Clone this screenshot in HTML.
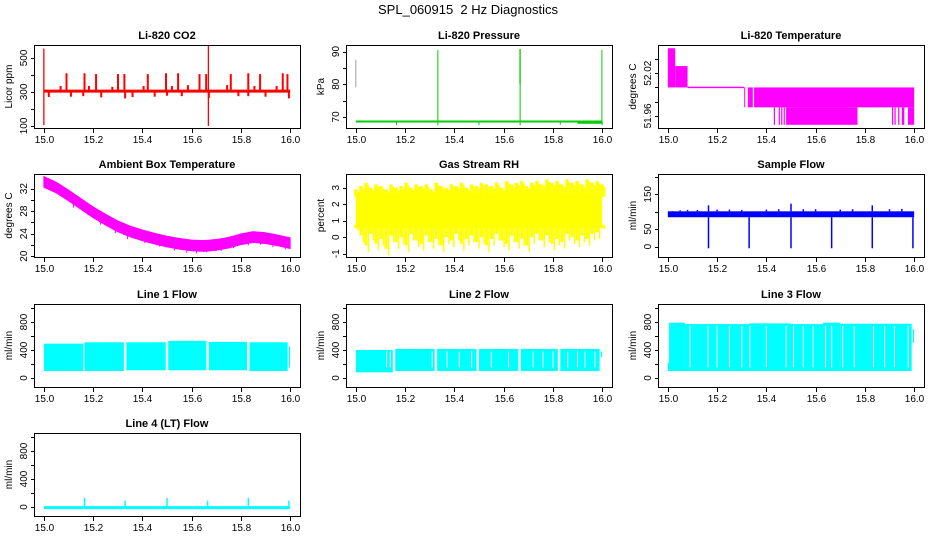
<!DOCTYPE html>
<html><head><meta charset="utf-8"><style>
html,body{margin:0;padding:0;background:#fff;}
svg{display:block;font-family:"Liberation Sans",Arial,sans-serif;}
</style></head><body>
<svg id="chart" width="936" height="540" viewBox="0 0 936 540" xmlns="http://www.w3.org/2000/svg">
<text x="468" y="14" text-anchor="middle" font-size="13" xml:space="preserve">SPL_060915&#160; 2 Hz Diagnostics</text>
</svg>
<script>
// ---------- data ----------
const xTicks = [15.0, 15.2, 15.4, 15.6, 15.8, 16.0];
const xTickLabels = ["15.0", "15.2", "15.4", "15.6", "15.8", "16.0"];

const co2Base = 305;
const co2SpikeX = [15.092, 15.165, 15.212, 15.301, 15.327, 15.422, 15.496, 15.545, 15.632, 15.659, 15.759, 15.830, 15.878, 15.970, 15.989, 15.068, 15.183, 15.278, 15.405, 15.52, 15.585, 15.744, 15.855, 15.945, 15.02, 15.11, 15.16, 15.233, 15.33, 15.36, 15.45, 15.5, 15.56, 15.67, 15.79, 15.83, 15.9, 15.995];
const co2SpikeV = [410, 410, 405, 405, 405, 405, 410, 410, 405, 405, 405, 410, 405, 410, 405, 335, 335, 330, 335, 335, 340, 340, 335, 335, 270, 272, 275, 268, 262, 270, 272, 278, 275, 265, 275, 275, 272, 262];
const co2BigX = [15.0, 15.668];
const co2BigLo = [105, 100];
const co2BigHi = [555, 570];

const presBase = 68.6;
const presSpikeX = [15.333, 15.667, 15.999];
const presSpikeHi = [90.5, 90.8, 90.5];
const presDipX = [15.165, 15.5, 15.83, 15.333, 15.667, 16.0];
const presDipV = [67.5, 67.5, 67.6, 67.4, 67.4, 67.4];

const tempSegX0 = [15.0, 15.03, 15.08, 15.31, 15.325, 15.35, 15.43, 15.45, 15.46, 15.47, 15.48, 15.91, 15.92, 15.935, 15.95, 15.975];
const tempSegX1 = [15.03, 15.08, 15.31, 15.313, 15.345, 16.0, 15.435, 15.455, 15.465, 15.475, 15.77, 15.915, 15.925, 15.94, 15.96, 16.0];
const tempSegLo = [52.0, 52.0, 51.999, 51.972, 51.972, 51.972, 51.9475, 51.9475, 51.9475, 51.9475, 51.9475, 51.9475, 51.9475, 51.9475, 51.9475, 51.9475];
const tempSegHi = [52.055, 52.03, 52.001, 52.0, 52.0, 52.0, 51.972, 51.972, 51.972, 51.972, 51.972, 51.972, 51.972, 51.972, 51.972, 51.972];

const ambX = [15.0, 15.05, 15.1, 15.15, 15.2, 15.25, 15.3, 15.35, 15.4, 15.45, 15.5, 15.55, 15.6, 15.65, 15.7, 15.75, 15.8, 15.85, 15.9, 15.95, 16.0];
const ambMid = [33.2, 32.2, 30.8, 29.3, 27.8, 26.5, 25.3, 24.4, 23.7, 23.1, 22.6, 22.2, 21.9, 21.8, 22.0, 22.4, 23.0, 23.4, 23.2, 22.8, 22.3];
const ambHalfWidth = 0.95;
const ambSpikeX = [15.03, 15.07, 15.12, 15.18, 15.23, 15.29, 15.34, 15.41, 15.47, 15.53, 15.58, 15.62, 15.66, 15.72, 15.77, 15.83, 15.88, 15.93, 15.98];
const ambSpikeV = [31.6, 30.9, 28.6, 27.3, 25.6, 24.1, 23.0, 22.3, 21.7, 21.0, 20.6, 20.5, 20.7, 20.9, 21.4, 21.9, 22.0, 21.6, 21.2];

const rhHi = [2.9, 3.1, 3.3, 3.0, 3.2, 3.1, 2.9, 3.2, 3.0, 3.1, 3.3, 3.0, 3.2, 3.1, 3.2, 2.9, 3.3, 3.1, 3.0, 3.2, 3.1, 3.3, 3.0, 3.2, 3.1, 3.3, 3.2, 3.1, 3.3, 3.0, 3.4, 3.2, 3.3, 3.4, 3.1, 3.3, 3.4, 3.2, 3.5, 3.3, 3.4, 3.2, 3.5, 3.3, 3.4, 3.2, 3.5, 3.3, 3.4, 3.2];
const rhLo = [0.4, -0.3, -0.9, -0.2, -0.8, -0.5, -1.1, -0.3, -0.7, -0.4, -0.9, -0.2, -0.6, -0.8, -0.3, -0.7, -0.5, -0.9, -0.4, -0.6, -0.2, -0.8, -0.5, -0.3, -0.7, -0.4, -0.9, -0.5, -0.2, -0.6, -0.8, -0.3, -0.7, -0.5, -0.9, -0.4, -0.2, -0.6, -0.3, -0.8, -0.5, -0.7, -0.2, -0.4, -0.6, -0.3, -0.5, -0.2, -0.1, 0.5];
const rhCoreLo = 0.55;
const rhCoreHi = 2.65;

const sfLo = 84, sfHi = 101;
const sfDipX = [15.165, 15.33, 15.5, 15.665, 15.83, 15.995];
const sfDipV = [-5, -5, -5, -5, -5, -5];
const sfBumpX = [15.165, 15.5, 15.83, 15.02, 15.05, 15.08, 15.12, 15.2, 15.25, 15.3, 15.4, 15.45, 15.55, 15.6, 15.7, 15.75, 15.9, 15.95];
const sfBumpV = [118, 123, 118, 98, 104, 105, 105, 106, 106, 105, 106, 107, 107, 107, 106, 107, 107, 108];

const l1X0 = [15.0, 15.165, 15.335, 15.505, 15.67, 15.835, 15.995];
const l1X1 = [15.16, 15.325, 15.495, 15.66, 15.825, 15.99, 16.0];
const l1Lo = [100, 100, 110, 110, 110, 100, 150];
const l1Hi = [490, 510, 510, 530, 515, 510, 450];

const l2X0 = [15.0, 15.16, 15.33, 15.5, 15.67, 15.83, 15.995];
const l2X1 = [15.15, 15.32, 15.49, 15.66, 15.82, 15.99, 16.0];
const l2Lo = [80, 100, 100, 100, 100, 100, 300];
const l2Hi = [400, 415, 415, 415, 415, 415, 380];
const l2Gaps = [15.125, 15.14, 15.31, 15.37, 15.42, 15.47, 15.55, 15.62, 15.72, 15.76, 15.80, 15.86, 15.90, 15.93, 15.97];

const l3X0 = [15.0, 15.005, 15.07, 15.33, 15.5, 15.63, 15.7, 15.995];
const l3X1 = [15.005, 15.07, 15.33, 15.5, 15.63, 15.7, 15.99, 16.0];
const l3Lo = [100, 100, 100, 100, 100, 100, 100, 500];
const l3Hi = [220, 790, 770, 780, 770, 790, 775, 700];
const l3Gaps = [15.09, 15.163, 15.2, 15.25, 15.3, 15.333, 15.4, 15.48, 15.51, 15.55, 15.59, 15.64, 15.665, 15.71, 15.757, 15.835, 15.88, 15.92, 15.976];

const l4Base = -10;
const l4SpikeX = [15.165, 15.33, 15.5, 15.665, 15.83, 15.995];
const l4SpikeV = [130, 90, 130, 90, 130, 90];

// ---------- helpers ----------
const svg = document.getElementById('chart');
const NS = 'http://www.w3.org/2000/svg';
const rowTop = [45, 174, 304, 433];
function mk(tag, attrs, parent) {
  const e = document.createElementNS(NS, tag);
  for (const k in attrs) e.setAttribute(k, attrs[k]);
  (parent || svg).appendChild(e);
  return e;
}
function panel(name, col, row, title, ylab, ymin, ymax, yTicks, yLabels) {
  const g = mk('g', {});
  
  
  const x0 = 34 + 312 * col, x1 = 300 + 312 * col;
  const y0 = rowTop[row], y1 = y0 + 83;
  const sx = v => x0 + (v - 14.96) / (16.04 - 14.96) * (x1 - x0);
  const sy = v => y1 - (v - ymin) / (ymax - ymin) * (y1 - y0);
  const plot = mk('g', {}, g);
  
  
  const t = mk('text', {x: (x0 + x1) / 2, y: y0 - 6, 'text-anchor': 'middle', 'font-size': 11, 'font-weight': 'bold'}, g);
  t.textContent = title;
  
  
  const box = mk('rect', {x: x0 + 0.5, y: y0 + 0.5, width: x1 - x0, height: y1 - y0, fill: 'none', stroke: '#000', 'stroke-width': 1}, g);
  
  
  const xa = mk('g', {}, g);
  
  
  xTicks.forEach((v, i) => {
    const x = Math.round(sx(v)) + 0.5;
    mk('line', {x1: x, x2: x, y1: y1 + 1, y2: y1 + 5, stroke: '#000'}, xa);
    const tx = mk('text', {x: x, y: y1 + 15, 'text-anchor': 'middle', 'font-size': 10}, xa);
    tx.textContent = xTickLabels[i];
  });
  const ya = mk('g', {}, g);
  
  
  yTicks.forEach(v => {
    const y = Math.round(sy(v)) + 0.5;
    mk('line', {x1: x0 - 3, x2: x0, y1: y, y2: y, stroke: '#000'}, ya);
  });
  yLabels.forEach(v => {
    const y = sy(v);
    const tx = mk('text', {x: 0, y: 0, 'text-anchor': 'middle', 'font-size': 10, transform: `translate(${x0 - 7},${y}) rotate(-90)`}, ya);
    tx.textContent = String(v);
  });
  const yl = mk('text', {x: 0, y: 0, 'text-anchor': 'middle', 'font-size': 10, transform: `translate(${x0 - 22},${(y0 + y1) / 2}) rotate(-90)`}, g);
  yl.textContent = ylab;
  
  
  return {plot, sx, sy};
}
function vline(p, x, a, b, color, w) {
  mk('line', {x1: p.sx(x), x2: p.sx(x), y1: p.sy(a), y2: p.sy(b), stroke: color, 'stroke-width': w || 1}, p.plot);
}
function hline(p, xa, xb, v, color, w) {
  mk('line', {x1: p.sx(xa), x2: p.sx(xb), y1: p.sy(v), y2: p.sy(v), stroke: color, 'stroke-width': w || 1}, p.plot);
}
function rect(p, xa, xb, lo, hi, color) {
  const X = p.sx(xa), Y = p.sy(hi);
  mk('rect', {x: X, y: Y, width: Math.max(1, p.sx(xb) - X), height: Math.max(1, p.sy(lo) - Y), fill: color}, p.plot);
}

// CO2
let p = panel('co2', 0, 0, 'Li-820 CO2', 'Licor ppm', 88, 576, [100, 200, 300, 400, 500], [100, 300, 500]);
hline(p, 15.0, 16.0, co2Base, '#ff0000', 3);
co2SpikeX.forEach((x, i) => vline(p, x, co2Base, co2SpikeV[i], '#ff0000', 2));
co2BigX.forEach((x, i) => vline(p, x, co2BigLo[i], co2BigHi[i], '#ff0000', 1.3));

// Pressure
p = panel('pressure', 1, 0, 'Li-820 Pressure', 'kPa', 66.6, 92.0, [70, 75, 80, 85, 90], [70, 80, 90]);
hline(p, 15.0, 16.0, presBase, '#00cc00', 2);
hline(p, 15.9, 16.0, presBase - 0.4, '#00cc00', 2);
presDipX.forEach((x, i) => vline(p, x, presBase, presDipV[i], '#00cc00', 1));
presSpikeX.forEach((x, i) => vline(p, x, presBase, presSpikeHi[i], '#00cc00', 1));
rect(p, 15.664, 15.669, 80, 90.8, '#00cc00');
vline(p, 15.0, 79, 87.5, '#888888', 0.8);

// Temperature
p = panel('li820-temp', 2, 0, 'Li-820 Temperature', 'degrees C', 51.943, 52.0596, [51.96, 51.98, 52.0, 52.02, 52.04], ["51.96", "52.02"]);
tempSegX0.forEach((x, i) => rect(p, x, tempSegX1[i], tempSegLo[i], tempSegHi[i], '#ff00ff'));

// Ambient
p = panel('ambient-temp', 0, 1, 'Ambient Box Temperature', 'degrees C', 19.85, 34.6, [20, 22, 24, 26, 28, 30, 32], [20, 24, 28, 32]);
{
  const up = ambX.map((x, i) => `${p.sx(x)},${p.sy(ambMid[i] + ambHalfWidth)}`);
  const dn = ambX.map((x, i) => `${p.sx(x)},${p.sy(ambMid[i] - ambHalfWidth)}`).reverse();
  mk('polygon', {points: up.concat(dn).join(' '), fill: '#ff00ff', stroke: '#ff00ff', 'stroke-width': 1}, p.plot);
  ambSpikeX.forEach((x, i) => vline(p, x, ambSpikeV[i] + 1.2, ambSpikeV[i], '#ff00ff', 1));
}

// RH
p = panel('gas-rh', 1, 1, 'Gas Stream RH', 'percent', -1.2, 3.83, [-1, 0, 1, 2, 3], [-1, 0, 1, 2, 3]);
rect(p, 15.0, 16.0, rhCoreLo, rhCoreHi, '#ffff00');
rhHi.forEach((v, i) => {
  const x = 15.0 + i / (rhHi.length - 1);
  rect(p, x - 0.007, x + 0.007, rhCoreHi - 0.2, v, '#ffff00');
  vline(p, x + 0.01, rhCoreHi - 0.2, v - 0.15, '#ffff00', 1.5);
});
rhLo.forEach((v, i) => {
  const x = 15.0 + i / (rhLo.length - 1);
  rect(p, x - 0.006, x + 0.006, Math.min(v + 0.4, rhCoreLo), rhCoreLo + 0.2, '#ffff00');
  vline(p, x + 0.01, v, rhCoreLo + 0.2, '#ffff00', 1.5);
});

// Sample flow
p = panel('sample-flow', 2, 1, 'Sample Flow', 'ml/min', -30, 208, [0, 50, 100, 150, 200], [0, 50, 150]);
rect(p, 15.0, 16.0, sfLo, sfHi, '#0000ff');
sfBumpX.forEach((x, i) => vline(p, x, sfHi, sfBumpV[i], '#0000ff', 1.5));
sfDipX.forEach((x, i) => vline(p, x, sfLo, sfDipV[i], '#0000ff', 1.5));

// Line flows
const lineTicks = [0, 200, 400, 600, 800, 1000], lineLabels = [0, 400, 800];
p = panel('line1-flow', 0, 2, 'Line 1 Flow', 'ml/min', -129, 1057, lineTicks, lineLabels);
l1X0.forEach((x, i) => rect(p, x, l1X1[i], l1Lo[i], l1Hi[i], '#00ffff'));

p = panel('line2-flow', 1, 2, 'Line 2 Flow', 'ml/min', -129, 1057, lineTicks, lineLabels);
l2X0.forEach((x, i) => rect(p, x, l2X1[i], l2Lo[i], l2Hi[i], '#00ffff'));
l2Gaps.forEach(x => vline(p, x, 150, 380, '#ffffff', 1));

p = panel('line3-flow', 2, 2, 'Line 3 Flow', 'ml/min', -129, 1057, lineTicks, lineLabels);
l3X0.forEach((x, i) => rect(p, x, l3X1[i], l3Lo[i], l3Hi[i], '#00ffff'));
l3Gaps.forEach(x => vline(p, x, 150, 740, '#ffffff', 1));

p = panel('line4-flow', 0, 3, 'Line 4 (LT) Flow', 'ml/min', -129, 1057, lineTicks, lineLabels);
hline(p, 15.0, 16.0, l4Base, '#00ffff', 3);
l4SpikeX.forEach((x, i) => vline(p, x, l4Base, l4SpikeV[i], '#00ffff', 1.5));
</script>
</body></html>
